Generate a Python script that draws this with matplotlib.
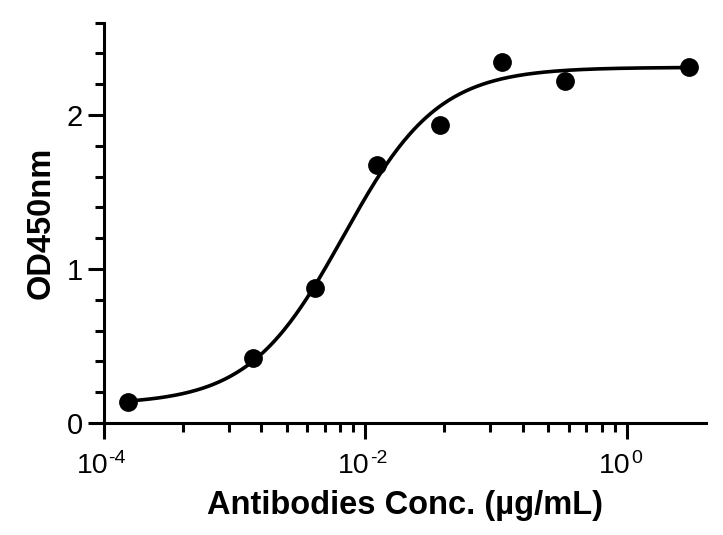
import numpy as np
import matplotlib
matplotlib.use("Agg")
import matplotlib.pyplot as plt
from matplotlib.ticker import FixedLocator, FixedFormatter, NullFormatter
import matplotlib.transforms as mtransforms

plt.rcParams['font.family'] = ['Liberation Sans', 'DejaVu Sans']

# Data (3-fold dilution series, µg/mL) and OD450 readings
conc = [3.0, 0.3333, 0.1111, 0.03704, 0.01235, 0.004115, 0.001372, 0.0001524]
od450 = [2.313, 2.223, 2.346, 1.935, 1.675, 0.875, 0.420, 0.138]

# 4-parameter logistic fit parameters
fit_bottom = 0.12
fit_top = 2.31
fit_ec50 = 0.0068
fit_hill = 1.2

xticks_major = [1e-4, 1e-2, 1e0]
xtick_base = ['10', '10', '10']
xtick_exp = ['-4', '-2', '0']
yticks_major = [0, 1, 2]

W, H = 723, 535
fig = plt.figure(figsize=(W / 100, H / 100), dpi=100)
ax = fig.add_axes([104 / W, (H - 423) / H, (706 - 104) / W, (423 - 22.7) / H])

xs = np.logspace(np.log10(min(conc)), np.log10(max(conc)), 400)
ys = fit_bottom + (fit_top - fit_bottom) / (1 + (fit_ec50 / xs) ** fit_hill)
ax.plot(xs, ys, color='black', lw=2.6, solid_capstyle='round', zorder=2)
ax.plot(conc, od450, 'o', color='black', ms=12.5, zorder=3)

ax.set_xscale('log')
ax.set_xlim(1e-4, 4.03)
ax.set_ylim(0, 2.6)

ax.xaxis.set_major_locator(FixedLocator(xticks_major))
ax.xaxis.set_major_formatter(NullFormatter())
minor_x = [10 ** (a + 2 * np.log10(k)) for a in (-4, -2) for k in range(2, 10)]
ax.xaxis.set_minor_locator(FixedLocator(minor_x))
ax.xaxis.set_minor_formatter(NullFormatter())

ax.yaxis.set_major_locator(FixedLocator(yticks_major))
ax.yaxis.set_major_formatter(FixedFormatter([str(v) for v in yticks_major]))
ax.yaxis.set_minor_locator(FixedLocator([0.2, 0.4, 0.6, 0.8, 1.2, 1.4, 1.6, 1.8, 2.2, 2.4, 2.6]))

for s in ('top', 'right'):
    ax.spines[s].set_visible(False)
for s in ('left', 'bottom'):
    ax.spines[s].set_linewidth(2.2)

ax.tick_params(which='major', direction='out', length=11.5, width=2.2, labelsize=21, pad=3.8)
ax.tick_params(which='minor', direction='out', length=6.5, width=2.2)

# x tick labels as 10 with superscript exponent
trans = mtransforms.blended_transform_factory(ax.transData, ax.transAxes)
for xv, b, e in zip(xticks_major, xtick_base, xtick_exp):
    ax.annotate(b, xy=(xv, 0), xycoords=trans, xytext=(2.9, -35.8),
                textcoords='offset points', ha='right', va='baseline',
                fontsize=20.5, annotation_clip=False)
    ax.annotate(e, xy=(xv, 0), xycoords=trans, xytext=(3.2, -28.8),
                textcoords='offset points', ha='left', va='baseline',
                fontsize=14, annotation_clip=False)

fig.text(405 / W, (H - 514) / H, 'Antibodies Conc. (µg/mL)', fontsize=23.5,
         fontweight='bold', ha='center', va='baseline')
fig.text(41 / W, (H - 223) / H, 'OD450nm', fontsize=23.5, fontweight='bold',
         rotation=90, ha='center', va='center')

fig.savefig('out.png', dpi=100)
